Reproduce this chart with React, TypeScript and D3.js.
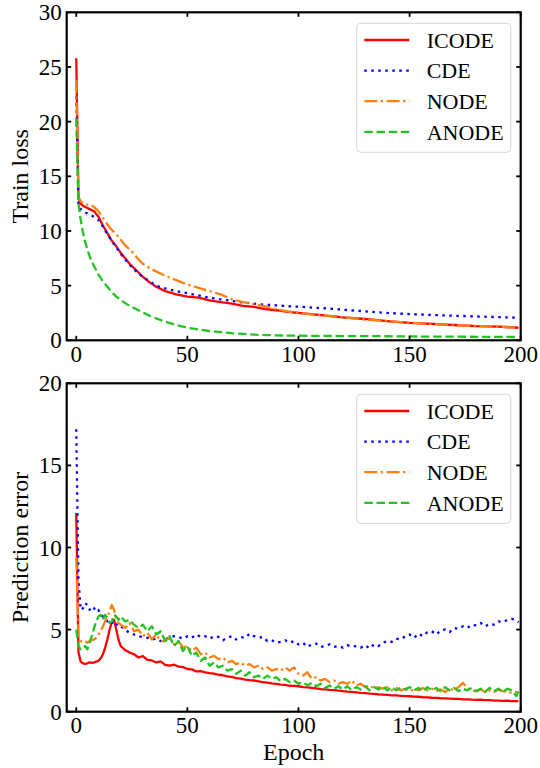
import React from "react";
import * as d3 from "d3";

// ---------- Data ----------
const methods = ["ICODE", "CDE", "NODE", "ANODE"];

// Top panel: train loss
const lossEpochs = [0, 1, 2, 3, 4, 5, 6, 7, 8, 10, 12, 14, 16, 18, 20, 22, 24, 26, 28, 30, 33, 36, 40, 45, 50, 55, 60, 65, 70, 75, 80, 85, 90, 95, 100, 110, 120, 130, 140, 150, 160, 170, 180, 190, 199];
const lossICODE = [25.8, 13.0, 12.5, 12.3, 12.2, 12.1, 12.0, 11.9, 11.8, 11.3, 10.5, 9.8, 9.1, 8.6, 8.0, 7.5, 7.0, 6.6, 6.2, 5.8, 5.3, 4.9, 4.5, 4.2, 4.0, 3.9, 3.65, 3.5, 3.35, 3.15, 3.05, 2.85, 2.75, 2.6, 2.5, 2.3, 2.1, 1.95, 1.75, 1.6, 1.5, 1.4, 1.3, 1.25, 1.15];
const lossCDE = [22.3, 12.4, 12.0, 11.8, 11.7, 11.6, 11.5, 11.4, 11.3, 11.0, 10.4, 9.7, 9.1, 8.5, 7.9, 7.4, 6.9, 6.5, 6.1, 5.8, 5.4, 5.0, 4.75, 4.5, 4.3, 4.1, 3.9, 3.75, 3.6, 3.45, 3.35, 3.25, 3.2, 3.12, 3.07, 2.95, 2.8, 2.65, 2.5, 2.4, 2.32, 2.25, 2.18, 2.12, 2.07];
const lossNODE = [23.8, 13.1, 12.7, 12.6, 12.5, 12.4, 12.3, 12.3, 12.2, 11.8, 11.2, 10.6, 10.1, 9.7, 9.2, 8.7, 8.3, 7.9, 7.4, 7.0, 6.6, 6.3, 5.9, 5.5, 5.1, 4.8, 4.5, 4.2, 3.75, 3.5, 3.3, 3.1, 2.85, 2.65, 2.5, 2.3, 2.1, 1.9, 1.75, 1.6, 1.5, 1.4, 1.3, 1.25, 1.15];
const lossANODE = [20.3, 12.5, 11.0, 9.9, 9.0, 8.3, 7.7, 7.2, 6.8, 6.0, 5.4, 4.9, 4.4, 4.0, 3.7, 3.4, 3.15, 2.95, 2.75, 2.55, 2.25, 2.0, 1.7, 1.4, 1.15, 1.0, 0.85, 0.75, 0.65, 0.58, 0.52, 0.48, 0.45, 0.43, 0.42, 0.4, 0.39, 0.38, 0.37, 0.35, 0.34, 0.33, 0.32, 0.31, 0.3];

// Bottom panel: prediction error
const errEpochs = [
  0, 1, 2, 3, 4, 5, 6, 7, 8, 9, 10, 11, 12, 13, 14, 15, 16, 17, 18, 19, 20,
  22, 24, 26, 28, 30, 32, 34, 36, 38, 40,
  42, 44, 46, 48, 50, 52, 54, 56, 58, 60,
  62, 64, 66, 68, 70, 72, 74, 76, 78, 80,
  82, 84, 86, 88, 90, 92, 94, 96, 98, 100,
  102, 104, 106, 108, 110, 112, 114, 116, 118, 120,
  122, 124, 126, 128, 130, 132, 134, 136, 138, 140,
  142, 144, 146, 148, 150, 152, 154, 156, 158, 160,
  162, 164, 166, 168, 170, 172, 174, 176, 178, 180,
  182, 184, 186, 188, 190, 192, 194, 196, 198, 199,
];
const errICODE = [
  12.1, 3.6, 3.05, 2.95, 2.92, 2.95, 3.0, 2.97, 3.0, 3.05, 3.1, 3.25, 3.5, 3.9, 4.4, 5.0, 5.45, 5.6, 5.0, 4.4, 4.0,
  3.75, 3.6, 3.5, 3.3, 3.38, 3.15, 3.12, 3.0, 3.06, 2.85,
  2.8, 2.86, 2.75, 2.72, 2.6, 2.58, 2.45, 2.47, 2.4, 2.35,
  2.32, 2.25, 2.22, 2.15, 2.12, 2.05, 2.02, 1.95, 1.92, 1.9,
  1.85, 1.8, 1.77, 1.72, 1.7, 1.65, 1.63, 1.58, 1.57, 1.55,
  1.5, 1.48, 1.45, 1.42, 1.38, 1.36, 1.33, 1.31, 1.28, 1.25,
  1.22, 1.21, 1.18, 1.15, 1.13, 1.1, 1.09, 1.05, 1.04, 1.02,
  1.0, 0.99, 0.97, 0.95, 0.94, 0.92, 0.91, 0.88, 0.87, 0.85,
  0.84, 0.82, 0.81, 0.8, 0.78, 0.78, 0.75, 0.75, 0.73, 0.72,
  0.73, 0.7, 0.7, 0.68, 0.68, 0.66, 0.67, 0.65, 0.64, 0.65,
];
const errCDE = [
  17.2, 8.0, 6.2, 6.3, 6.6, 6.5, 6.2, 6.4, 6.3, 6.1, 6.2, 5.9, 5.8, 5.7, 5.5, 5.6, 5.4, 5.5, 5.3, 5.35, 5.2,
  5.0, 4.8, 4.7, 4.6, 4.55, 4.5, 4.4, 4.45, 4.3, 4.4,
  4.5, 4.6, 4.55, 4.45, 4.6, 4.5, 4.7, 4.55, 4.6, 4.45,
  4.6, 4.55, 4.35, 4.5, 4.6, 4.4, 4.55, 4.5, 4.75, 4.6,
  4.5, 4.55, 4.3, 4.35, 4.2, 4.25, 4.35, 4.2, 4.3, 4.1,
  4.2, 3.95, 4.1, 4.15, 3.95, 4.0, 4.1, 3.95, 4.0, 3.9,
  4.05, 3.95, 4.0, 3.9, 4.05, 3.85, 4.1, 4.0, 4.2, 4.3,
  4.25, 4.45, 4.4, 4.6, 4.7, 4.5, 4.75, 4.6, 4.85, 4.9,
  4.7, 4.95, 5.0, 4.85, 5.1, 5.05, 5.2, 5.1, 5.3, 5.25,
  5.4, 5.2, 5.35, 5.3, 5.5, 5.45, 5.6, 5.65, 5.55, 5.45,
];
const errNODE = [
  9.4, 4.6, 4.3, 4.25, 4.3, 4.2, 4.3, 4.35, 4.4, 4.5, 4.7, 4.9, 5.2, 5.5, 5.8, 6.1, 6.5, 6.2, 5.7, 5.4, 5.3,
  5.1, 5.4, 4.9, 5.0, 4.6, 4.8, 4.4, 4.7, 4.3, 4.3,
  4.5, 4.1, 4.3, 3.9, 4.0, 3.7, 3.9, 3.5, 3.6, 3.3,
  3.4, 3.2, 3.3, 3.0, 3.1, 2.9, 3.0, 2.8, 2.9, 2.7,
  2.8, 2.6, 2.7, 2.5, 2.6, 2.5, 2.7, 2.5, 2.7, 2.3,
  2.2, 2.4, 2.0, 2.1, 1.9, 2.0, 1.8, 1.9, 1.7, 1.8,
  1.7, 1.9, 1.6, 1.7, 1.5, 1.6, 1.4, 1.5, 1.4, 1.5,
  1.3, 1.45, 1.3, 1.4, 1.25, 1.35, 1.3, 1.45, 1.3, 1.4,
  1.25, 1.35, 1.2, 1.4, 1.3, 1.5, 1.75, 1.45, 1.3, 1.25,
  1.35, 1.2, 1.3, 1.2, 1.35, 1.25, 1.2, 1.15, 1.2, 1.15,
];
const errANODE = [
  5.0, 4.0, 3.8, 3.9, 4.0, 3.8, 4.2, 4.6, 5.1, 5.5, 5.8, 5.9, 5.6, 5.9, 5.7, 5.4, 5.5, 5.9, 5.8, 5.6, 5.8,
  5.5, 5.6, 5.3, 5.1, 5.3, 4.9, 5.2, 4.7, 4.9, 4.3,
  4.6, 4.0, 4.3, 3.7, 4.0, 3.4, 3.6, 3.1, 3.3, 2.8,
  3.0, 2.7, 2.8, 2.5, 2.6, 2.3, 2.5, 2.2, 2.4, 2.1,
  2.2, 2.0, 2.2, 2.0, 2.1, 1.85, 2.0, 1.8, 1.9, 1.7,
  1.8, 1.6, 1.75, 1.55, 1.7, 1.45, 1.6, 1.4, 1.55, 1.35,
  1.55, 1.3, 1.5, 1.35, 1.55, 1.3, 1.5, 1.35, 1.55, 1.3,
  1.5, 1.3, 1.45, 1.35, 1.5, 1.3, 1.45, 1.25, 1.5, 1.3,
  1.45, 1.25, 1.5, 1.3, 1.45, 1.25, 1.4, 1.3, 1.45, 1.25,
  1.4, 1.2, 1.45, 1.25, 1.4, 1.2, 1.4, 1.3, 0.95, 1.25,
];

const xTicks = [0, 50, 100, 150, 200];
const lossTicks = [0, 5, 10, 15, 20, 25, 30];
const errTicks = [0, 5, 10, 15, 20];

// ---------- Styles ----------
const colors: Record<string, string> = {
  ICODE: "#ff0000",
  CDE: "#0000ff",
  NODE: "#ff7f0e",
  ANODE: "#22c322",
};
const dashes: Record<string, string | undefined> = {
  ICODE: undefined,
  CDE: "2.5,4.5",
  NODE: "13,3.5,2.3,3.5",
  ANODE: "8.5,3.7",
};
const LW = 2.3;
const FONT = "'Liberation Serif', 'Times New Roman', serif";
const FS_TICK = 23;
const FS_LABEL = 24;
const FS_LEG = 22;

const left = 66.7;
const right = 520.7;
const xScale = d3.scaleLinear().domain([-4.3, 200]).range([left, right]);

type Panel = {
  top: number;
  bottom: number;
  yMax: number;
  ticks: number[];
  label: string;
  epochs: number[];
  series: number[][];
  id: string;
};

function PanelView({ p }: { p: Panel }) {
  const y = d3.scaleLinear().domain([0, p.yMax]).range([p.bottom, p.top]);
  const line = (vals: number[]) =>
    d3
      .line<number>()
      .x((_, i) => xScale(p.epochs[i]))
      .y((v) => y(v))(vals) || "";
  const tickLen = 4.5;
  const legX = 356.7;
  const legY = p.top + 11;
  const rowY = (i: number) => p.top + 27.7 + i * 30.6;
  const midY = (p.top + p.bottom) / 2;
  return (
    <g>
      <defs>
        <clipPath id={`clip-${p.id}`}>
          <rect x={left} y={p.top} width={right - left} height={p.bottom - p.top} />
        </clipPath>
      </defs>
      <g clipPath={`url(#clip-${p.id})`}>
        {methods.map((m, i) => (
          <path
            key={m}
            d={line(p.series[i])}
            fill="none"
            stroke={colors[m]}
            strokeWidth={LW}
            strokeDasharray={dashes[m]}
            strokeLinejoin="round"
          />
        ))}
      </g>
      {/* ticks */}
      {xTicks.map((t) => (
        <g key={`x${t}`}>
          <line x1={xScale(t)} x2={xScale(t)} y1={p.bottom} y2={p.bottom - tickLen} stroke="#000" strokeWidth={1.8} />
          <line x1={xScale(t)} x2={xScale(t)} y1={p.top} y2={p.top + tickLen} stroke="#000" strokeWidth={1.8} />
          <text x={xScale(t)} y={p.bottom + 21.5} textAnchor="middle" fontFamily={FONT} fontSize={FS_TICK}>
            {t}
          </text>
        </g>
      ))}
      {p.ticks.map((t) => (
        <g key={`y${t}`}>
          <line x1={left} x2={left + tickLen} y1={y(t)} y2={y(t)} stroke="#000" strokeWidth={1.8} />
          <line x1={right} x2={right - tickLen} y1={y(t)} y2={y(t)} stroke="#000" strokeWidth={1.8} />
          <text x={left - 5} y={y(t)} dy="0.35em" textAnchor="end" fontFamily={FONT} fontSize={FS_TICK}>
            {t}
          </text>
        </g>
      ))}
      <rect x={left} y={p.top} width={right - left} height={p.bottom - p.top} fill="none" stroke="#000" strokeWidth={2.2} />
      <text
        transform={`translate(${27.5},${midY}) rotate(-90)`}
        textAnchor="middle"
        fontFamily={FONT}
        fontSize={FS_LABEL}
      >
        {p.label}
      </text>
      {/* legend */}
      <rect x={legX} y={legY} width={154} height={129} rx={4} fill="#fff" fillOpacity={0.8} stroke="#d6d6d6" strokeWidth={1} />
      {methods.map((m, i) => (
        <g key={`l${m}`}>
          <line
            x1={364.3}
            x2={409.3}
            y1={rowY(i)}
            y2={rowY(i)}
            stroke={colors[m]}
            strokeWidth={LW}
            strokeDasharray={dashes[m]}
          />
          <text x={426.7} y={rowY(i)} dy="0.35em" fontFamily={FONT} fontSize={FS_LEG}>
            {m}
          </text>
        </g>
      ))}
    </g>
  );
}

export default function App() {
  const panels: Panel[] = [
    {
      id: "loss",
      top: 12.3,
      bottom: 340.3,
      yMax: 30,
      ticks: lossTicks,
      label: "Train loss",
      epochs: lossEpochs,
      series: [lossICODE, lossCDE, lossNODE, lossANODE],
    },
    {
      id: "err",
      top: 383.3,
      bottom: 711.7,
      yMax: 20,
      ticks: errTicks,
      label: "Prediction error",
      epochs: errEpochs,
      series: [errICODE, errCDE, errNODE, errANODE],
    },
  ];
  return (
    <svg width={540} height={768} style={{ position: "absolute", left: 0, top: 0, background: "#fff" }}>
      <rect width={540} height={768} fill="#fff" />
      {panels.map((p) => (
        <PanelView key={p.id} p={p} />
      ))}
      <text x={(left + right) / 2} y={759.5} textAnchor="middle" fontFamily={FONT} fontSize={FS_LABEL}>
        Epoch
      </text>
    </svg>
  );
}
